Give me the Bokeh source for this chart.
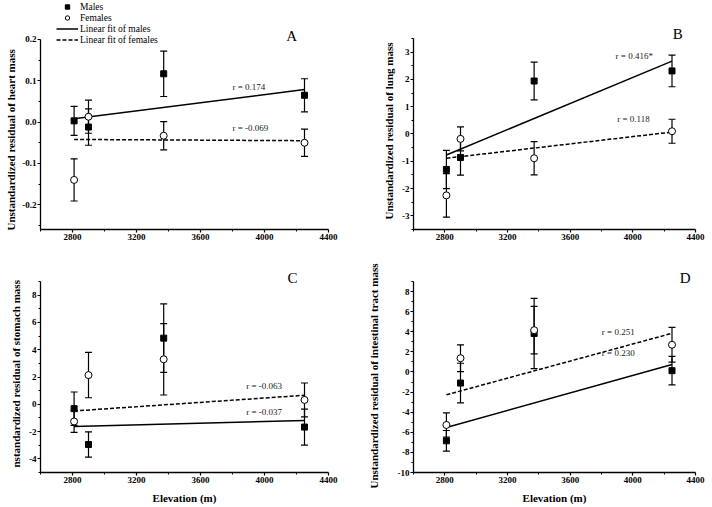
from bokeh.plotting import figure
from bokeh.layouts import gridplot
from bokeh.models import (ColumnDataSource, Whisker, TeeHead, FixedTicker, Title,
                          PrintfTickFormatter, Range1d, Label, Legend, LegendItem)
from bokeh.core.properties import value
from bokeh.embed import file_html
from bokeh.resources import INLINE

# ---------------- data ----------------
elevation = [2810, 2900, 3370, 4250]
fit_x = [2810, 4250]
x_major = [2800, 3200, 3600, 4000, 4400]
x_minor = [2600, 3000, 3400, 3800, 4200]

# A: heart
heart_m = [0.003, -0.012, 0.117, 0.065]
heart_m_se = [0.035, 0.044, 0.055, 0.040]
heart_f = [-0.140, 0.013, -0.033, -0.050]
heart_f_se = [0.051, 0.040, 0.034, 0.033]
heart_fit_m = [0.008, 0.079]
heart_fit_f = [-0.042, -0.045]

# B: lung
lung_m = [-1.30, -0.86, 1.94, 2.31]
lung_m_se = [0.70, 0.65, 0.69, 0.58]
lung_f = [-2.25, -0.18, -0.89, 0.10]
lung_f_se = [0.80, 0.44, 0.61, 0.44]
lung_fit_m = [-0.77, 2.67]
lung_fit_f = [-0.89, 0.07]

# C: stomach
stom_m = [-0.32, -2.95, 4.85, -1.67]
stom_m_se = [1.22, 0.93, 2.51, 1.32]
stom_f = [-1.26, 2.14, 3.30, 0.32]
stom_f_se = [0.80, 1.66, 2.62, 1.24]
stom_fit_m = [-1.63, -1.18]
stom_fit_f = [-0.49, 0.66]

# D: intestinal tract
int_m = [-6.85, -1.10, 3.83, 0.13]
int_m_se = [1.03, 1.97, 3.50, 1.42]
int_f = [-5.27, 1.37, 4.16, 2.71]
int_f_se = [1.20, 1.33, 2.36, 1.73]
int_fit_m = [-5.52, 0.74]
int_fit_f = [-2.27, 3.85]

SERIF = "Liberation Serif"


def style_axis(ax):
    ax.axis_line_color = "black"
    ax.axis_line_width = 1.3
    ax.major_tick_line_color = "black"
    ax.minor_tick_line_color = "black"
    ax.major_tick_line_width = 1.2
    ax.minor_tick_line_width = 1
    ax.major_tick_in = 0
    ax.major_tick_out = 3
    ax.minor_tick_in = 0
    ax.minor_tick_out = 2
    ax.major_label_text_font = SERIF
    ax.major_label_text_font_style = "bold"
    ax.major_label_text_font_size = "9px"
    ax.major_label_text_color = "black"
    ax.major_label_standoff = 1
    ax.axis_label_text_font = SERIF
    ax.axis_label_text_font_style = "bold"
    ax.axis_label_text_font_size = "11px"
    ax.axis_label_text_color = "black"


def panel(w, h, borders, yr, ytop, ymaj, ymin, yfmt, ylabel, ylab_off, ylab_so, xlabel,
          m, m_se, f, f_se, fit_m, fit_f, r_texts, r_pos, letter, letter_pos):
    bl, br, bt, bb = borders
    p = figure(width=w, height=h, x_range=Range1d(2600, 4400),
               y_range=Range1d(yr[0], ytop),
               output_backend="svg", toolbar_location=None,
               min_border_left=bl, min_border_right=br,
               min_border_top=bt, min_border_bottom=bb)
    p.outline_line_color = None
    p.xgrid.visible = False
    p.ygrid.visible = False

    xa = p.xaxis[0]
    ya = p.yaxis[0]
    style_axis(xa)
    style_axis(ya)
    xa.ticker = FixedTicker(ticks=x_major, minor_ticks=x_minor)
    ya.ticker = FixedTicker(ticks=ymaj, minor_ticks=ymin)
    ya.bounds = (yr[0], yr[1])
    ya.formatter = PrintfTickFormatter(format=yfmt)
    if xlabel:
        xa.axis_label = xlabel
        xa.axis_label_standoff = 6

    # y-axis title, anchored to the bottom of the bounded axis
    p.add_layout(Title(text=ylabel, align="left", offset=ylab_off, standoff=ylab_so,
                       vertical_align="bottom", text_font=SERIF, text_font_style="bold",
                       text_font_size="11px", text_color="black"), "left")

    src_m = ColumnDataSource(dict(x=elevation, y=m,
                                  lo=[a - b for a, b in zip(m, m_se)],
                                  hi=[a + b for a, b in zip(m, m_se)]))
    src_f = ColumnDataSource(dict(x=elevation, y=f,
                                  lo=[a - b for a, b in zip(f, f_se)],
                                  hi=[a + b for a, b in zip(f, f_se)]))
    for src in (src_m, src_f):
        wk = Whisker(source=src, base="x", lower="lo", upper="hi", dimension="height",
                     line_color="black", line_width=1.2,
                     lower_head=TeeHead(size=7, line_color="black", line_width=1.2),
                     upper_head=TeeHead(size=7, line_color="black", line_width=1.2))
        p.add_layout(wk)

    lm = p.line(fit_x, fit_m, line_color="black", line_width=1.5)
    lf = p.line(fit_x, fit_f, line_color="black", line_width=1.5, line_dash="4 2")
    sm = p.scatter("x", "y", source=src_m, marker="square", size=6,
                   fill_color="black", line_color="black")
    sf = p.scatter("x", "y", source=src_f, marker="circle", size=7,
                   fill_color="white", line_color="black", line_width=1)

    for txt, (tx, ty) in zip(r_texts, r_pos):
        p.add_layout(Label(x=tx, y=ty, text=txt, text_font=SERIF, text_font_size="9px",
                           text_align="left", text_baseline="middle", text_color="#222222"))
    p.add_layout(Label(x=letter_pos[0], y=letter_pos[1], text=letter, text_font=SERIF,
                       text_font_size="15px", text_align="center", text_baseline="middle",
                       text_color="black"))
    return p, (sm, sf, lm, lf)


pA, rA = panel(350, 254, (37, 20, 0, 25), (-0.26, 0.2), 0.2944,
               [-0.2, -0.1, 0.0, 0.1, 0.2], [-0.25, -0.15, -0.05, 0.05, 0.15], "%.1f",
               "Unstandardized residual of heart mass", -1, 5, None,
               heart_m, heart_m_se, heart_f, heart_f_se, heart_fit_m, heart_fit_f,
               ["r = 0.174", "r = -0.069"], [(3800, 0.086), (3800, -0.015)],
               "A", (4170, 0.208))

pB, _ = panel(362, 254, (58, 17, 0, 25), (-3.5, 3.5), 4.89,
              [-3, -2, -1, 0, 1, 2, 3], [-3.5, -2.5, -1.5, -0.5, 0.5, 1.5, 2.5, 3.5], "%d",
              "Unstandardized residual of lung mass", 10, 10, None,
              lung_m, lung_m_se, lung_f, lung_f_se, lung_fit_m, lung_fit_f,
              ["r = 0.416*", "r = 0.118"], [(3890, 2.85), (3900, 0.54)],
              "B", (4286, 3.68))

pC, _ = panel(350, 253, (37, 22, 0, 35), (-5, 9), 10.98,
              [-4, -2, 0, 2, 4, 6, 8], [-5, -3, -1, 1, 3, 5, 7, 9], "%d",
              "nstandardized residual of stomach mass", 5, 10, "Elevation (m)",
              stom_m, stom_m_se, stom_f, stom_f_se, stom_fit_m, stom_fit_f,
              ["r = -0.063", "r = -0.037"], [(3886, 1.35), (3886, -0.57)],
              "C", (4175, 9.23))

pD, _ = panel(362, 253, (57, 12, 0, 35), (-10, 9), 11.69,
              [-10, -8, -6, -4, -2, 0, 2, 4, 6, 8], [-9, -7, -5, -3, -1, 1, 3, 5, 7, 9], "%d",
              "Unstandardized residual of intestinal tract mass", -16, 30, "Elevation (m)",
              int_m, int_m_se, int_f, int_f_se, int_fit_m, int_fit_f,
              ["r = 0.251", "r = 0.230"], [(3802, 4.02), (3802, 1.84)],
              "D", (4334, 9.38))

sm, sf, lm, lf = rA
legend = Legend(items=[LegendItem(label=value("Males"), renderers=[sm]),
                       LegendItem(label=value("Females"), renderers=[sf]),
                       LegendItem(label=value("Linear fit of males"), renderers=[lm]),
                       LegendItem(label=value("Linear fit of females"), renderers=[lf])],
                location=(16, 184), orientation="vertical",
                glyph_width=22, glyph_height=11, label_height=11, label_width=10,
                label_standoff=2, spacing=0, padding=0, margin=0,
                label_text_font=SERIF, label_text_font_size="9.5px",
                label_text_color="black",
                border_line_color=None, background_fill_alpha=0)
pA.add_layout(legend)

grid = gridplot([[pA, pB], [pC, pD]], toolbar_location=None)

open("out.html", "w").write(file_html(grid, INLINE))
